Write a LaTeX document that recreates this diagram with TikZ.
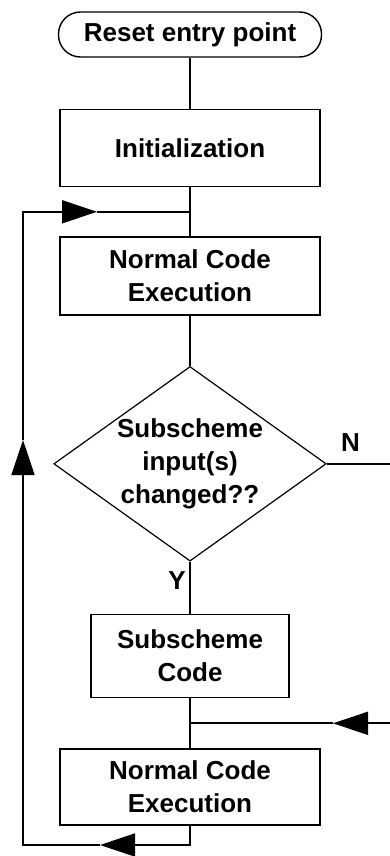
\documentclass[tikz,border=0pt]{standalone}
\usepackage{fontspec}
\setmainfont{Liberation Sans}
\usetikzlibrary{arrows.meta,positioning,shapes.geometric,calc}

\begin{document}
\begin{tikzpicture}[
  x=1pt,y=1pt,
  txt/.style={font=\fontsize{26pt}{33pt}\selectfont\bfseries,align=center,inner sep=0pt},
  box/.style={txt,draw,line width=1.6pt,minimum width=260pt,minimum height=78pt},
  terminal/.style={txt,draw,line width=1.4pt,rounded corners=22pt,minimum width=263pt,minimum height=45pt},
  decision/.style={txt,draw,diamond,aspect=1.4,line width=1.2pt,minimum width=266pt,minimum height=190pt},
  line/.style={line width=1.8pt},
  arrow/.style={line,-{Triangle[length=35pt,width=23pt]}}
]
\useasboundingbox (0,0) rectangle (390,-856);
\node[terminal] (reset) at (190,-34.5) {Reset entry point};
\node[box,below=51pt of reset,minimum height=77pt] (init) {Initialization};
\node[box,below=49pt of init] (exec) {Normal Code\\Execution};
\node[decision,below=50pt of exec] (changed) {Subscheme\\input(s)\\changed??};
\node[box,below=52pt of changed,minimum width=198pt,minimum height=83pt] (sub) {Subscheme\\Code};
\node[box,below=50pt of sub,minimum height=76pt] (exec2) {Normal Code\\Execution};
% branch labels
\node[txt,anchor=north east] (yes) at ([xshift=-4pt,yshift=-10pt]changed.south) {Y};
\node[txt,anchor=south west] (no) at ([xshift=14pt,yshift=12pt]changed.east) {N};
% junctions and arrow tips
\coordinate (loopin) at ($(init.south)!0.5!(exec.north)$);
\coordinate (merge) at ($(sub.south)!0.5!(exec2.north)$);
\coordinate (tipbottom) at (100,-845);
\coordinate (tipleft) at (23,-440);
\coordinate (tiptop) at (97,0 |- loopin);
\coordinate (mergein) at (390,0 |- merge);
\coordinate (tipmerge) at (333,0 |- merge);
\coordinate (noout) at (390,0 |- changed.east);
% main flow
\draw[line] (reset) -- (init);
\draw[line] (init) -- (exec);
\draw[line] (exec) -- (changed);
\draw[line] (changed) -- (sub);
\draw[line] (sub) -- (exec2);
\draw[line] (changed.east) -- (noout);
\draw[arrow] (mergein) -- (tipmerge);
\draw[line] (tipmerge) -- (merge);
% loop back
\draw[arrow] (exec2.south) |- (tipbottom);
\draw[arrow] (tipbottom) -| (tipleft);
\draw[arrow] (tipleft) |- (tiptop);
\draw[line] (tiptop) -- (loopin);
\end{tikzpicture}
\end{document}
